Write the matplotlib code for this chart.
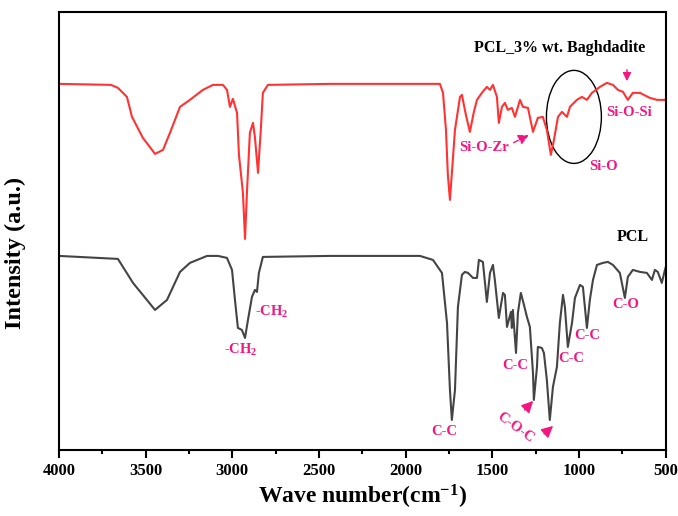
import numpy as np
import matplotlib.pyplot as plt
from matplotlib.patches import Ellipse

# FTIR Spektren (Intensitaet in a.u.)
wn_comp = [4000, 3994, 3700, 3660, 3608, 3579, 3516, 3446, 3400, 3360, 3302, 3245,
           3170, 3112, 3054, 3031, 3014, 2997, 2973, 2962, 2939, 2927, 2916, 2899,
           2881, 2870, 2852, 2835, 2824, 2795, 2437, 1803, 1785, 1768, 1757, 1745,
           1716, 1687, 1676, 1653, 1630, 1607, 1589, 1561, 1532, 1514, 1497, 1474,
           1463, 1445, 1428, 1411, 1388, 1370, 1341, 1324, 1295, 1266, 1238, 1209,
           1186, 1163, 1145, 1122, 1099, 1070, 1053, 1013, 984, 955, 926, 880, 840,
           805, 776, 747, 719, 690, 649, 592, 551, 505, 500]
int_comp = [366, 366, 365, 362, 353, 333, 312, 296, 300, 317, 343, 350,
            360, 365, 365, 360, 343, 351, 337, 295, 257, 211, 257, 317,
            327, 313, 277, 323, 357, 365, 366, 366, 357, 320, 275, 250,
            320, 353, 355, 335, 318, 338, 350, 357, 363, 360, 365, 353,
            327, 343, 347, 340, 342, 333, 350, 343, 342, 318, 332, 333,
            320, 295, 310, 333, 338, 333, 343, 350, 353, 350, 357, 363, 367,
            365, 360, 358, 350, 357, 357, 352, 350, 350, 351]

wn_pcl = [4000, 3660, 3573, 3446, 3377, 3302, 3245, 3146, 3083, 3031, 3002, 2985,
          2968, 2945, 2927, 2910, 2887, 2870, 2858, 2847, 2824, 2437, 2033, 1918,
          1843, 1791, 1762, 1745, 1734, 1716, 1699, 1676, 1659, 1641, 1612, 1589,
          1578, 1555, 1532, 1514, 1497, 1486, 1463, 1439, 1428, 1416, 1393, 1388,
          1382, 1364, 1353, 1336, 1318, 1301, 1284, 1266, 1261, 1243, 1238, 1215,
          1203, 1186, 1169, 1151, 1128, 1111, 1093, 1082, 1065, 1041, 1024, 995,
          978, 955, 938, 920, 897, 863, 834, 805, 765, 736, 719, 690, 649, 609,
          580, 563, 546, 523, 505, 500]
int_pcl = [194, 191, 167, 140, 150, 178, 187, 194, 194, 192, 180, 150,
           122, 120, 112, 130, 153, 160, 158, 177, 193, 194, 194, 194,
           190, 177, 127, 60, 30, 60, 143, 175, 178, 177, 172, 172,
           190, 188, 148, 177, 185, 170, 132, 157, 155, 123, 138, 122,
           140, 97, 137, 157, 145, 133, 123, 77, 50, 83, 103, 102,
           97, 70, 30, 63, 83, 127, 155, 143, 103, 127, 152, 165,
           163, 122, 150, 170, 185, 187, 188, 185, 177, 152, 173, 180, 178, 177,
           170, 180, 178, 167, 180, 183]

pink = '#f5157f'
plt.rcParams['font.family'] = ['Liberation Serif', 'DejaVu Serif']
plt.rcParams['font.weight'] = 'bold'
plt.rcParams['mathtext.fontset'] = 'custom'
plt.rcParams['mathtext.rm'] = 'Liberation Serif:bold'
plt.rcParams['mathtext.it'] = 'Liberation Serif:bold'
plt.rcParams['mathtext.bf'] = 'Liberation Serif:bold'
plt.rcParams['mathtext.default'] = 'rm'

fig = plt.figure(figsize=(6.78, 5.16), dpi=100)
ax = fig.add_axes([0.087, 0.128, 0.895, 0.849])

ax.plot(wn_comp, int_comp, color='#ff3333', lw=1.5)
ax.plot(wn_pcl, int_pcl, color='#444444', lw=1.5)

ax.set_xlim(4000, 500)
ax.set_ylim(0, 438)
ax.set_xticks([4000, 3500, 3000, 2500, 2000, 1500, 1000, 500])
ax.set_xticks(np.arange(3750, 500, -500), minor=True)
ax.set_yticks([])
ax.tick_params(axis='x', which='major', length=6, width=1.5, direction='out', labelsize=12)
ax.tick_params(axis='x', which='minor', length=3, width=1.5, direction='out')
for s in ax.spines.values():
    s.set_linewidth(1.5)
for t in ax.get_xticklabels():
    t.set_fontweight('bold')

ax.set_xlabel('Wave number(cm$^{-1}$)', fontsize=17, fontweight='bold', labelpad=3)
ax.set_ylabel('Intensity (a.u.)', fontsize=17.5, fontweight='bold')
ax.yaxis.set_label_coords(-0.055, 0.45)

# Beschriftungen
ax.text(1111, 402, 'PCL_3% wt. Baghdadite', ha='center', va='center', fontsize=11.5, fontweight='bold')
ax.text(690, 213, 'PCL', ha='center', va='center', fontsize=11.5, fontweight='bold')

lab = dict(color=pink, fontsize=10.5, fontweight='bold', ha='center', va='center')
ax.text(2950, 100, '-CH$_2$', **lab)
ax.text(2770, 138, '-CH$_2$', **lab)
ax.text(1780, 18, 'C-C', **lab)
ax.text(1370, 84, 'C-C', **lab)
ax.text(1047, 91, 'C-C', **lab)
ax.text(955, 114, 'C-C', **lab)
ax.text(730, 145, 'C-O', **lab)
ax.text(1370, 22, 'C-O-C', rotation=-36, **lab)
ax.text(1549, 302, 'Si-O-Zr', **lab)
ax.text(857, 283, 'Si-O', **lab)
ax.text(713, 337, 'Si-O-Si', **lab)

head = dict(arrowstyle='-|>,head_length=0.7,head_width=0.35', color=pink, lw=1, shrinkA=0, shrinkB=0)
ax.annotate('', xy=(1265, 49), xytext=(1315, 40), arrowprops=head)
ax.annotate('', xy=(1150, 24), xytext=(1202, 16), arrowprops=head)
ax.annotate('', xy=(1276, 316), xytext=(1392, 306),
            arrowprops=dict(arrowstyle='-|>,head_length=0.6,head_width=0.3', color=pink, lw=1, ls='--'))
ax.annotate('', xy=(724, 366), xytext=(724, 383),
            arrowprops=dict(arrowstyle='-|>,head_length=0.5,head_width=0.25', color=pink, lw=1))

ax.add_patch(Ellipse((1030, 333), 317, 93, fill=False, ec='black', lw=1))

plt.savefig('out.png', dpi=100)
